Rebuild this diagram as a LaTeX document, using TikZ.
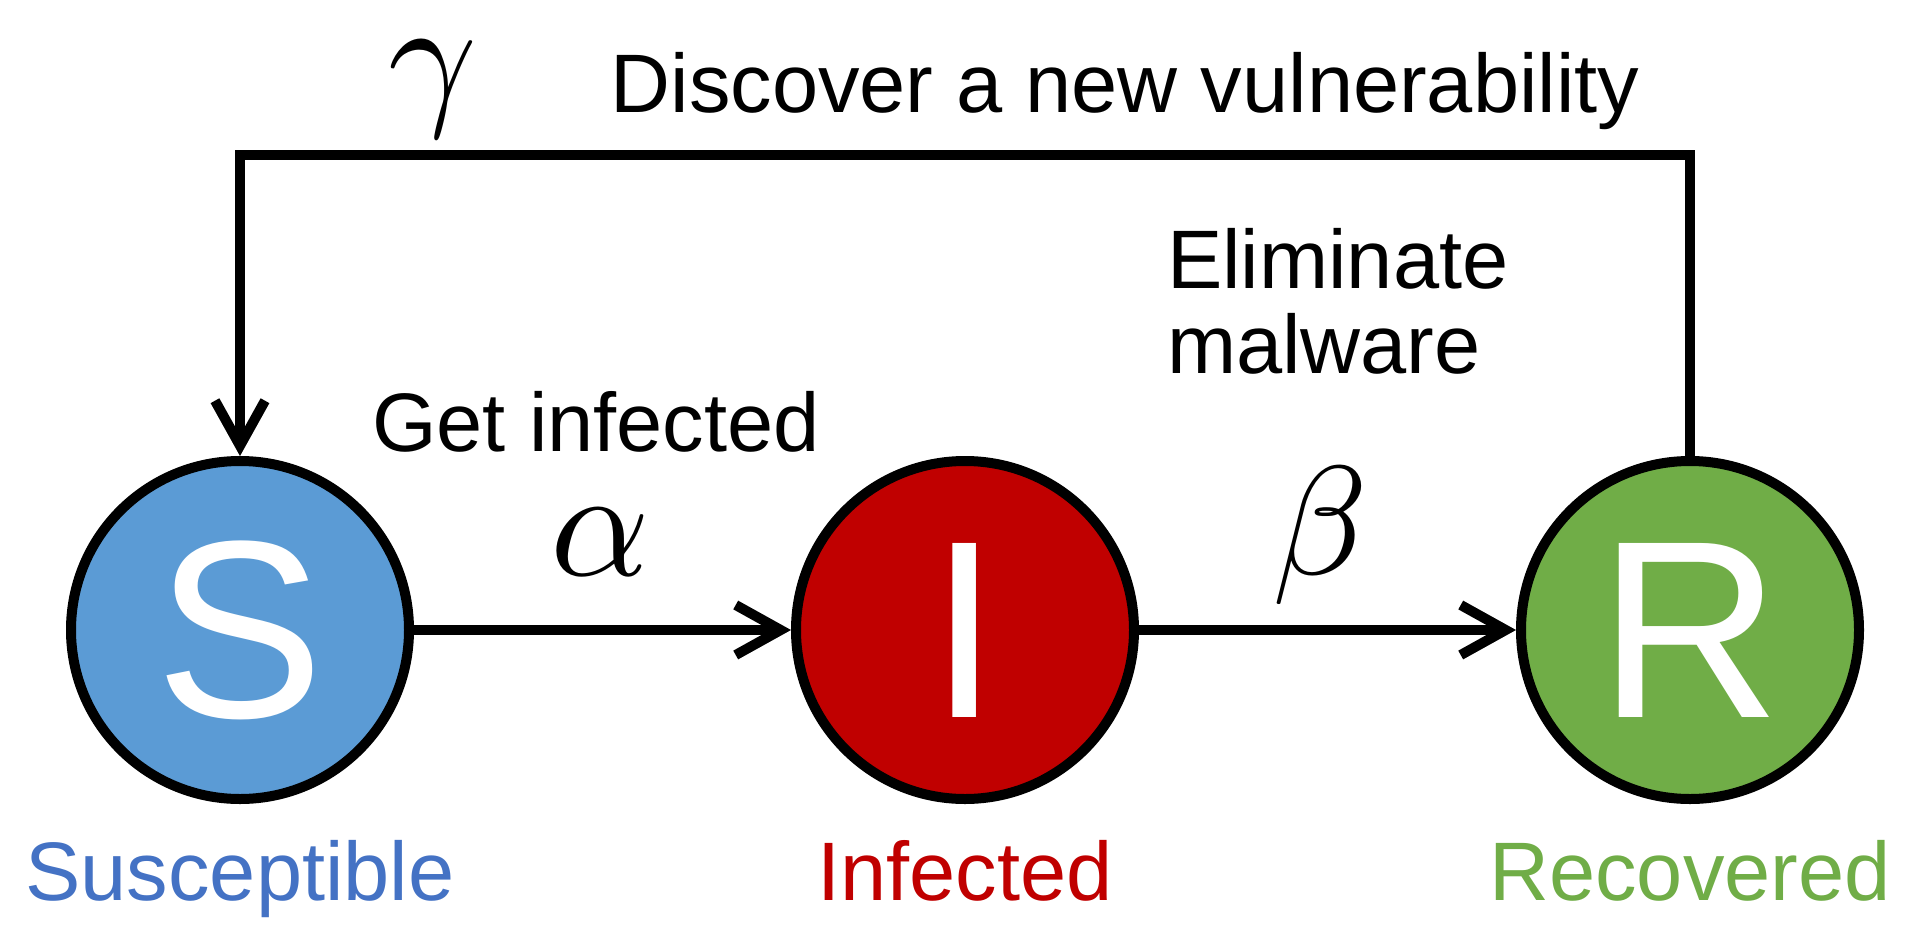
\documentclass[tikz,border=0pt]{standalone}
\usepackage{fontspec}
\setmainfont{Liberation Sans}
\usetikzlibrary{arrows.meta}
\definecolor{sblue}{HTML}{5B9BD5}
\definecolor{ired}{HTML}{C00000}
\definecolor{rgreen}{HTML}{70AD47}
\definecolor{lblue}{HTML}{4472C4}
\begin{document}
\begin{tikzpicture}[x=1pt,y=-1pt,
  state/.style={circle, draw=black, line width=10pt, minimum size=338pt, inner sep=0pt,
    text=white, font=\fontsize{253}{253}\selectfont},
  lbl/.style={font=\fontsize{83}{85}\selectfont, anchor=base, inner sep=2pt},
  greek/.style={scale=15.5, anchor=base, inner sep=0pt},
  arr/.style={line width=10pt, line join=miter, -{Straight Barb[length=45pt,width=50pt]}}
]
\useasboundingbox (0,0) rectangle (1912,945);

\node (S) [state, fill=sblue] at (240,630) {S};
\node (I) [state, fill=ired] at (965,630) {I};
\node (R) [state, fill=rgreen] at (1690,630) {R};

\coordinate (topR) at (1690,155);
\coordinate (topS) at (240,155);

\draw[arr] (S) -- (I);
\draw[arr] (I) -- (R);
\draw[arr] (R.north) -- (topR) -- (topS) -- (S.north);

\node (alpha) [greek] at (600,575) {$\alpha$};
\node (beta) [greek] at (1320,574) {$\beta$};
\node (gamma) [greek] at (433,107) {$\gamma$};

\node (disc) [lbl] at (1125,112) {Discover a new vulnerability};
\node (getinf) [lbl] at (596,451) {Get infected};
\node (elim) [lbl, anchor=base west, align=left] at (1165,373) {Eliminate\\malware};

\node (sus) [lbl, text=lblue] at (240,900) {Susceptible};
\node (inf) [lbl, text=ired] at (965,900) {Infected};
\node (rec) [lbl, text=rgreen] at (1690,900) {Recovered};
\end{tikzpicture}
\end{document}
